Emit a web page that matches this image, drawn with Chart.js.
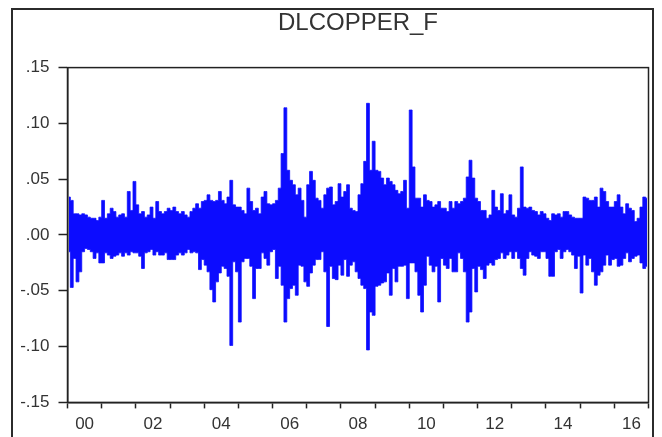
<!DOCTYPE html>
<html>
<head>
<meta charset="utf-8">
<script src="https://cdn.jsdelivr.net/npm/chart.js@4.4.1/dist/chart.umd.min.js"></script>
<style>
  html, body { margin: 0; padding: 0; background: #fff; }
  #wrap { position: relative; width: 662px; height: 437px; overflow: hidden; }
  #frame { position: absolute; left: 11px; top: 8px; width: 639px; height: 470px; border: 2px solid #2b2b2b; pointer-events: none; }
</style>
</head>
<body>
<div id="wrap">
  <canvas id="lineChart" width="662" height="437"></canvas>
  <div id="frame"></div>
</div>
<script>
// Daily log returns of copper futures, summarised as the high and low of each month
const firstYear = 2000;
const seriesName = 'DLCOPPER_F';

const monthHigh = [
  0.034, 0.031, 0.019, 0.019, 0.018, 0.019, 0.018, 0.016, 0.015, 0.015, 0.013, 0.016, // 2000
  0.031, 0.015, 0.019, 0.024, 0.021, 0.016, 0.018, 0.019, 0.016, 0.039, 0.022, 0.048, // 2001
  0.027, 0.019, 0.021, 0.016, 0.018, 0.025, 0.015, 0.030, 0.021, 0.019, 0.021, 0.024, // 2002
  0.022, 0.025, 0.021, 0.019, 0.021, 0.018, 0.016, 0.021, 0.024, 0.028, 0.024, 0.030, // 2003
  0.031, 0.036, 0.031, 0.030, 0.031, 0.039, 0.031, 0.028, 0.034, 0.049, 0.027, 0.025, // 2004
  0.025, 0.022, 0.019, 0.042, 0.030, 0.022, 0.024, 0.019, 0.034, 0.039, 0.028, 0.027, // 2005
  0.028, 0.031, 0.042, 0.073, 0.114, 0.058, 0.049, 0.045, 0.036, 0.042, 0.031, 0.016, // 2006
  0.045, 0.057, 0.049, 0.033, 0.031, 0.024, 0.036, 0.042, 0.043, 0.027, 0.030, 0.046, // 2007
  0.034, 0.039, 0.045, 0.024, 0.022, 0.021, 0.036, 0.046, 0.066, 0.118, 0.058, 0.084, // 2008
  0.058, 0.057, 0.051, 0.045, 0.051, 0.048, 0.045, 0.040, 0.037, 0.039, 0.049, 0.024, // 2009
  0.112, 0.061, 0.033, 0.033, 0.025, 0.036, 0.031, 0.030, 0.025, 0.027, 0.030, 0.024, // 2010
  0.024, 0.021, 0.030, 0.024, 0.030, 0.028, 0.030, 0.033, 0.052, 0.067, 0.051, 0.033, // 2011
  0.030, 0.022, 0.022, 0.015, 0.018, 0.040, 0.025, 0.022, 0.037, 0.019, 0.022, 0.036, // 2012
  0.018, 0.016, 0.024, 0.061, 0.025, 0.024, 0.025, 0.022, 0.021, 0.018, 0.021, 0.019, // 2013
  0.015, 0.013, 0.019, 0.018, 0.019, 0.016, 0.021, 0.021, 0.018, 0.016, 0.015, 0.015, // 2014
  0.015, 0.034, 0.033, 0.031, 0.031, 0.034, 0.025, 0.042, 0.039, 0.030, 0.025, 0.025, // 2015
  0.030, 0.036, 0.025, 0.019, 0.028, 0.024, 0.022, 0.012, 0.015, 0.025, 0.034, 0.033  // 2016
];

const monthLow = [
  -0.015, -0.047, -0.021, -0.042, -0.033, -0.015, -0.012, -0.013, -0.015, -0.021, -0.016, -0.025, // 2000
  -0.025, -0.016, -0.018, -0.021, -0.019, -0.018, -0.016, -0.019, -0.016, -0.018, -0.015, -0.016, // 2001
  -0.016, -0.019, -0.030, -0.016, -0.015, -0.013, -0.018, -0.015, -0.018, -0.018, -0.016, -0.022, // 2002
  -0.022, -0.022, -0.018, -0.016, -0.018, -0.016, -0.013, -0.016, -0.015, -0.016, -0.031, -0.022, // 2003
  -0.027, -0.033, -0.049, -0.060, -0.042, -0.034, -0.028, -0.030, -0.037, -0.099, -0.024, -0.033, // 2004
  -0.078, -0.024, -0.021, -0.021, -0.028, -0.057, -0.030, -0.030, -0.016, -0.021, -0.027, -0.015, // 2005
  -0.013, -0.039, -0.028, -0.045, -0.078, -0.057, -0.048, -0.045, -0.054, -0.027, -0.028, -0.042, // 2006
  -0.046, -0.034, -0.027, -0.022, -0.022, -0.015, -0.033, -0.082, -0.028, -0.039, -0.040, -0.027, // 2007
  -0.036, -0.022, -0.037, -0.027, -0.024, -0.033, -0.039, -0.045, -0.048, -0.103, -0.069, -0.072, // 2008
  -0.046, -0.045, -0.043, -0.042, -0.034, -0.054, -0.030, -0.042, -0.028, -0.028, -0.027, -0.057, // 2009
  -0.025, -0.025, -0.033, -0.054, -0.069, -0.045, -0.019, -0.027, -0.033, -0.028, -0.060, -0.021, // 2010
  -0.027, -0.030, -0.021, -0.033, -0.033, -0.016, -0.021, -0.033, -0.078, -0.069, -0.030, -0.051, // 2011
  -0.028, -0.031, -0.039, -0.027, -0.025, -0.027, -0.022, -0.021, -0.016, -0.021, -0.018, -0.015, // 2012
  -0.021, -0.015, -0.021, -0.030, -0.036, -0.021, -0.015, -0.018, -0.019, -0.021, -0.015, -0.015, // 2013
  -0.021, -0.037, -0.037, -0.015, -0.013, -0.021, -0.015, -0.013, -0.015, -0.018, -0.030, -0.019, // 2014
  -0.052, -0.018, -0.027, -0.021, -0.033, -0.045, -0.036, -0.033, -0.027, -0.018, -0.027, -0.022, // 2015
  -0.021, -0.028, -0.027, -0.021, -0.016, -0.024, -0.021, -0.019, -0.018, -0.025, -0.030, -0.028  // 2016
];

const xTickLabels = ['00', '02', '04', '06', '08', '10', '12', '14', '16'];
const yTickLabels = ['.15', '.10', '.05', '.00', '-.05', '-.10', '-.15'];

// month centres on the time axis; the high and low traces step at month edges
const monthX = i => firstYear + (i + 0.5) / 12;
const highPoints = monthHigh.map((v, i) => ({ x: monthX(i), y: v }));
const lowPoints = monthLow.map((v, i) => ({ x: monthX(i), y: v }));

const lastYear = firstYear + monthHigh.length / 12;
const traceColor = 'rgb(12,12,255)';
const labelFont = { family: 'Liberation Sans', size: 17 };

// box round the plot area
const plotFrame = {
  id: 'plotFrame',
  afterDraw(chart) {
    const { ctx, chartArea: a } = chart;
    ctx.save();
    ctx.strokeStyle = '#222';
    ctx.lineWidth = 1.5;
    ctx.strokeRect(a.left, a.top, a.right - a.left, a.bottom - a.top);
    ctx.restore();
  }
};

const ctx = document.getElementById('lineChart').getContext('2d');

const myLineChart = new Chart(ctx, {
  type: 'line',
  data: {
    datasets: [
      {
        label: seriesName + ' high',
        data: highPoints,
        stepped: 'middle',
        borderColor: traceColor,
        borderWidth: 0.8,
        pointRadius: 0,
        fill: false
      },
      {
        label: seriesName + ' low',
        data: lowPoints,
        stepped: 'middle',
        borderColor: traceColor,
        backgroundColor: traceColor,
        borderWidth: 0.8,
        pointRadius: 0,
        fill: '-1'
      }
    ]
  },
  options: {
    responsive: false,
    devicePixelRatio: 1,
    animation: false,
    layout: { padding: { left: 0, right: 13.5, top: 0, bottom: 0 } },
    plugins: {
      legend: { display: false },
      tooltip: { enabled: false },
      title: {
        display: true,
        text: seriesName,
        fullSize: false,
        color: '#333',
        font: { family: 'Liberation Sans', size: 24, weight: 'normal' },
        padding: { top: 9, bottom: 29.8 }
      }
    },
    scales: {
      x: {
        type: 'linear',
        min: firstYear,
        max: lastYear,
        afterBuildTicks: axis => {
          const t = [];
          for (let y = firstYear; y <= lastYear; y++) {
            t.push({ value: y });
            if (y < lastYear) t.push({ value: y + 0.5 });
          }
          axis.ticks = t;
        },
        ticks: {
          autoSkip: false,
          maxRotation: 0,
          padding: 6,
          color: '#333',
          font: labelFont,
          callback: v => {
            const yr = Math.floor(v);
            if (v - yr !== 0.5 || (yr - firstYear) % 2 !== 0) return '';
            return xTickLabels[(yr - firstYear) / 2];
          }
        },
        grid: {
          drawOnChartArea: false,
          drawTicks: true,
          tickLength: 6,
          tickWidth: 1.5,
          tickColor: c => (c.tick && c.tick.value % 1 === 0) ? '#222' : 'rgba(0,0,0,0)'
        },
        border: { display: true, color: '#222', width: 1.5 },
        afterFit: s => { s.height = 34.6; }
      },
      y: {
        min: -0.15,
        max: 0.15,
        ticks: {
          stepSize: 0.05,
          padding: 9,
          color: '#333',
          font: labelFont,
          callback: v => yTickLabels[Math.round((0.15 - v) / 0.05)]
        },
        grid: {
          drawOnChartArea: false,
          drawTicks: true,
          tickLength: 9,
          tickWidth: 1.5,
          tickColor: '#222'
        },
        border: { display: true, color: '#222', width: 1.5 },
        afterFit: s => { s.width = 67.5; }
      }
    }
  },
  plugins: [plotFrame]
});
</script>
</body>
</html>
